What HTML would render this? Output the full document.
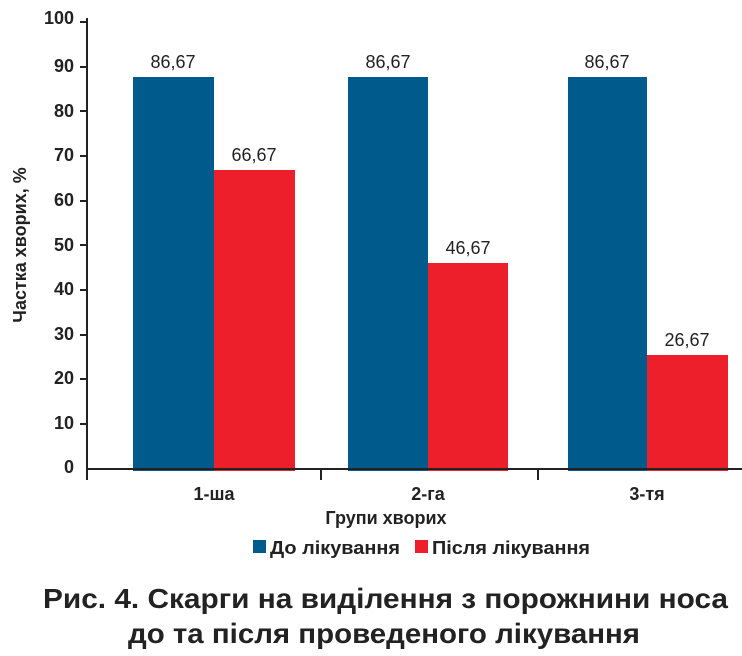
<!DOCTYPE html>
<html><head><meta charset="utf-8"><style>
body{margin:0;background:#fff;width:742px;height:651px;overflow:hidden;font-family:"Liberation Sans",sans-serif}
</style></head><body>
<svg width="742" height="651" xmlns="http://www.w3.org/2000/svg" font-family="Liberation Sans, sans-serif">
<g fill="#005b8c">
<rect x="133" y="77" width="81" height="394"/>
<rect x="348" y="77" width="80" height="394"/>
<rect x="568" y="77" width="79" height="394"/>
</g>
<g fill="#ed1f2a">
<rect x="214" y="170" width="81" height="301"/>
<rect x="428" y="263" width="80" height="208"/>
<rect x="647" y="355" width="81" height="116"/>
</g>
<g stroke="#222" stroke-width="2" fill="none">
<line x1="87" y1="18" x2="87" y2="480"/>
<line x1="86" y1="469" x2="742" y2="469"/>
<line x1="321" y1="469" x2="321" y2="480"/>
<line x1="538" y1="469" x2="538" y2="480"/>
<path d="M80 22H87M80 67H87M80 111H87M80 156H87M80 201H87M80 245H87M80 290H87M80 335H87M80 379H87M80 424H87"/>
</g>
<g font-size="18" font-weight="bold" text-anchor="end" fill="#222">
<text x="74" y="24">100</text><text x="74" y="72">90</text><text x="74" y="117">80</text>
<text x="74" y="161">70</text><text x="74" y="206">60</text><text x="74" y="251">50</text>
<text x="74" y="295">40</text><text x="74" y="340">30</text><text x="74" y="384">20</text>
<text x="74" y="429">10</text><text x="74" y="473">0</text>
</g>
<g font-size="18" text-anchor="middle" fill="#222">
<text x="173" y="68">86,67</text><text x="254" y="161">66,67</text>
<text x="388" y="68">86,67</text><text x="468" y="254">46,67</text>
<text x="607" y="68">86,67</text><text x="687" y="346">26,67</text>
</g>
<g font-size="18" font-weight="bold" text-anchor="middle" fill="#222">
<text x="214" y="500">1-ша</text><text x="428" y="500">2-га</text><text x="647" y="500">3-тя</text>
<text x="386" y="524">Групи хворих</text>
<text transform="translate(26,245) rotate(-90)">Частка хворих, %</text>
</g>
<rect x="253" y="540" width="13" height="13" fill="#005b8c"/>
<text x="270" y="554" font-size="18" font-weight="bold" fill="#222" textLength="130" lengthAdjust="spacingAndGlyphs">До лікування</text>
<rect x="415" y="540" width="13" height="13" fill="#ed1f2a"/>
<text x="432" y="554" font-size="18" font-weight="bold" fill="#222" textLength="158" lengthAdjust="spacingAndGlyphs">Після лікування</text>
<g font-size="28" font-weight="bold" fill="#222">
<text x="43" y="608" textLength="685" lengthAdjust="spacingAndGlyphs">Рис. 4. Скарги на виділення з порожнини носа</text>
<text x="128" y="643" textLength="512" lengthAdjust="spacingAndGlyphs">до та після проведеного лікування</text>
</g>
</svg>
</body></html>
